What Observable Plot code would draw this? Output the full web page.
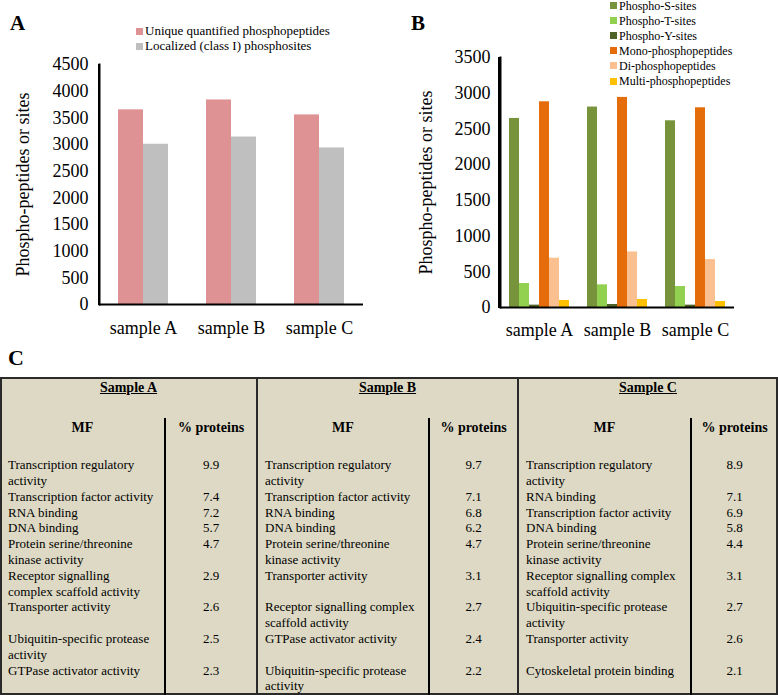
<!DOCTYPE html>
<html>
<head>
<meta charset="utf-8">
<script src="https://cdn.jsdelivr.net/npm/d3@7"></script>
<script src="https://cdn.jsdelivr.net/npm/@observablehq/plot@0.6"></script>
<style>
  html, body { margin: 0; padding: 0; background: #fff; }
  body { width: 778px; height: 695px; position: relative; overflow: hidden;
         font-family: 'Liberation Serif', serif; color: #000; }
  .abs { position: absolute; white-space: nowrap; }
  .sw { position: absolute; width: 7px; height: 7px; }
  svg text { font-family: 'Liberation Serif', serif !important; }
</style>
</head>
<body>
<div id="root"></div>
<script>
// ---------- Panel A data ----------
const samples = ["sample A", "sample B", "sample C"];
const seriesA = ["Unique quantified phosphopeptides", "Localized (class I) phosphosites"];
const uniqueQuantified = [3650, 3835, 3555];
const localizedSites = [3005, 3140, 2935];
const yTicksA = [0, 500, 1000, 1500, 2000, 2500, 3000, 3500, 4000, 4500];
const colorsA = ["#df9294", "#bfbfbf"];

// ---------- Panel B data ----------
const seriesB = ["Phospho-S-sites", "Phospho-T-sites", "Phospho-Y-sites",
                 "Mono-phosphopeptides", "Di-phosphopeptides", "Multi-phosphopeptides"];
const phosphoS = [2647, 2806, 2614];
const phosphoT = [336, 317, 294];
const phosphoY = [33, 42, 33];
const monoPeptides = [2880, 2941, 2796];
const diPeptides = [690, 778, 671];
const multiPeptides = [98, 112, 84];
const yTicksB = [0, 500, 1000, 1500, 2000, 2500, 3000, 3500];
const colorsB = ["#77933c", "#92d050", "#4f6228", "#e46c0a", "#fac090", "#ffc000"];

// ---------- Panel C data ----------
const tableSamples = ["Sample A", "Sample B", "Sample C"];
const mfSampleA = ["Transcription regulatory\nactivity", "Transcription factor activity", "RNA binding", "DNA binding",
  "Protein serine/threonine\nkinase activity", "Receptor signalling\ncomplex scaffold activity", "Transporter activity",
  "Ubiquitin-specific protease\nactivity", "GTPase activator activity"];
const pctSampleA = ["9.9", "7.4", "7.2", "5.7", "4.7", "2.9", "2.6", "2.5", "2.3"];
const mfSampleB = ["Transcription regulatory\nactivity", "Transcription factor activity", "RNA binding", "DNA binding",
  "Protein serine/threonine\nkinase activity", "Transporter activity", "Receptor signalling complex\nscaffold activity",
  "GTPase activator activity", "Ubiquitin-specific protease\nactivity"];
const pctSampleB = ["9.7", "7.1", "6.8", "6.2", "4.7", "3.1", "2.7", "2.4", "2.2"];
const mfSampleC = ["Transcription regulatory\nactivity", "RNA binding", "Transcription factor activity", "DNA binding",
  "Protein serine/threonine\nkinase activity", "Receptor signalling complex\nscaffold activity",
  "Ubiquitin-specific protease\nactivity", "Transporter activity", "Cytoskeletal protein binding"];
const pctSampleC = ["8.9", "7.1", "6.9", "5.8", "4.4", "3.1", "2.7", "2.6", "2.1"];
const headerMF = "MF";
const headerPct = "% proteins";

const root = document.getElementById("root");

function addDiv(text, x, y, css) {
  const d = document.createElement("div");
  d.className = "abs";
  d.textContent = text;
  d.style.left = x + "px";
  d.style.top = y + "px";
  Object.assign(d.style, css || {});
  root.appendChild(d);
  return d;
}
function vline(x, y1, y2, w, c) {
  const l = document.createElement("div");
  Object.assign(l.style, {position: "absolute", left: (x - w / 2) + "px", top: y1 + "px",
    width: w + "px", height: (y2 - y1) + "px", background: c});
  root.appendChild(l);
}

// ---------- Panel labels ----------
addDiv("A", 10, 10, {fontSize: "21px", fontWeight: "bold", lineHeight: "26px"});
addDiv("B", 411, 10, {fontSize: "21px", fontWeight: "bold", lineHeight: "26px"});
addDiv("C", 8, 345, {fontSize: "22px", fontWeight: "bold", lineHeight: "26px"});

// ---------- Legends ----------
function legend(names, colors, x, y0, step, fontSize) {
  names.forEach((n, i) => {
    const cy = y0 + i * step;
    const sw = document.createElement("div");
    sw.className = "sw";
    sw.style.left = x + "px";
    sw.style.top = (cy - 3.5) + "px";
    sw.style.background = colors[i];
    root.appendChild(sw);
    addDiv(n, x + 9, cy - 8, {fontSize: fontSize + "px", lineHeight: "16px"});
  });
}
legend(seriesA, colorsA, 136, 31, 15, 13);
legend(seriesB, colorsB, 610, 5.5, 15.1, 12);

// ---------- Table C ----------
const tTop = 377, tBottom = 695, tLeft = 0, tRight = 778;
const box = document.createElement("div");
Object.assign(box.style, {position: "absolute", left: tLeft + "px", top: tTop + "px",
  width: (tRight - tLeft - 4) + "px", height: (tBottom - tTop - 4) + "px",
  border: "2px solid #2a2a2a", background: "#ddd9c4"});
root.appendChild(box);

const sectionX = [0, 257, 518, 778];      // sample section boundaries
const innerX = [165, 429, 691];           // MF | % divider
vline(257, tTop, tBottom, 2, "#2a2a2a");
vline(518, tTop, tBottom, 2, "#2a2a2a");
innerX.forEach(x => vline(x, 418, tBottom, 2, "#000"));

const mfCols = [mfSampleA, mfSampleB, mfSampleC];
const pctCols = [pctSampleA, pctSampleB, pctSampleC];
const LH = 15.8;
const rowLines = mfSampleA.map((_, r) => Math.max(...mfCols.map(c => c[r].split("\n").length)));

tableSamples.forEach((name, k) => {
  const x0 = sectionX[k], x1 = sectionX[k + 1], xm = innerX[k];
  addDiv(name, x0, 380, {width: (x1 - x0) + "px", textAlign: "center", fontSize: "14px",
    fontWeight: "bold", textDecoration: "underline", lineHeight: "16px"});
  addDiv(headerMF, x0, 420, {width: (xm - x0) + "px", textAlign: "center", fontSize: "14px",
    fontWeight: "bold", lineHeight: "16px"});
  addDiv(headerPct, xm, 420, {width: (x1 - xm) + "px", textAlign: "center", fontSize: "14px",
    fontWeight: "bold", lineHeight: "16px"});
  let y = 457.2;
  mfCols[k].forEach((label, r) => {
    addDiv(label, x0 + 8, y, {fontSize: "13px", lineHeight: LH + "px", whiteSpace: "pre"});
    addDiv(pctCols[k][r], xm, y, {width: (x1 - xm) + "px", textAlign: "center", fontSize: "13px", lineHeight: LH + "px"});
    y += rowLines[r] * LH;
  });
});

// ---------- Bar charts ----------
function barChart({data, series, colors, ticks, yMax, width, left, marginLeft, marginTop, marginBottom, marginRight,
                   tickPadding, labelOffset, fxPadding, xOuter}) {
  const svg = Plot.plot({
    width, height: 340, marginLeft, marginTop, marginBottom, marginRight,
    style: "font-family: 'Liberation Serif', serif; font-size: 18px; color: #000; background: transparent; position: absolute; top: 0px; left: " + left + "px;",
    fx: {domain: samples, paddingInner: 0, paddingOuter: 0, axis: "bottom", label: null,
         tickSize: 0, tickPadding: fxPadding},
    x: {domain: series, axis: null, paddingInner: 0, paddingOuter: xOuter},
    y: {domain: [0, yMax], ticks, tickSize: 0, tickPadding, tickFormat: d => String(d),
        label: "Phospho-peptides or sites", labelAnchor: "center", labelOffset, labelArrow: "none"},
    color: {domain: series, range: colors},
    marks: [
      Plot.barY(data, {fx: "sample", x: "series", y: "value", fill: "series"}),
      Plot.ruleY([0], {stroke: "#000", strokeWidth: 2}),
      Plot.frame({anchor: "left", fx: () => samples[0], stroke: "#000", strokeWidth: 2})
    ]
  });
  root.appendChild(svg);
  // vertical axis line at the plot frame's left edge
  vline(left + marginLeft, marginTop, 340 - marginBottom + 1, 2, "#000");
  return svg;
}

const dataA = samples.flatMap((s, i) => [
  {sample: s, series: seriesA[0], value: uniqueQuantified[i]},
  {sample: s, series: seriesA[1], value: localizedSites[i]}
]);
barChart({data: dataA, series: seriesA, colors: colorsA, ticks: yTicksA, yMax: 4500,
  width: 390, left: 0, marginLeft: 99, marginTop: 64, marginBottom: 36, marginRight: 27,
  tickPadding: 11, labelOffset: 83, fxPadding: 17, xOuter: 0.76});

const valuesB = [phosphoS, phosphoT, phosphoY, monoPeptides, diPeptides, multiPeptides];
const dataB = samples.flatMap((s, i) => seriesB.map((name, j) => ({sample: s, series: name, value: valuesB[j][i]})));
barChart({data: dataB, series: seriesB, colors: colorsB, ticks: yTicksB, yMax: 3500,
  width: 388, left: 390, marginLeft: 109, marginTop: 57, marginBottom: 33, marginRight: 44,
  tickPadding: 10, labelOffset: 81, fxPadding: 16, xOuter: 0.79});
</script>
</body>
</html>
